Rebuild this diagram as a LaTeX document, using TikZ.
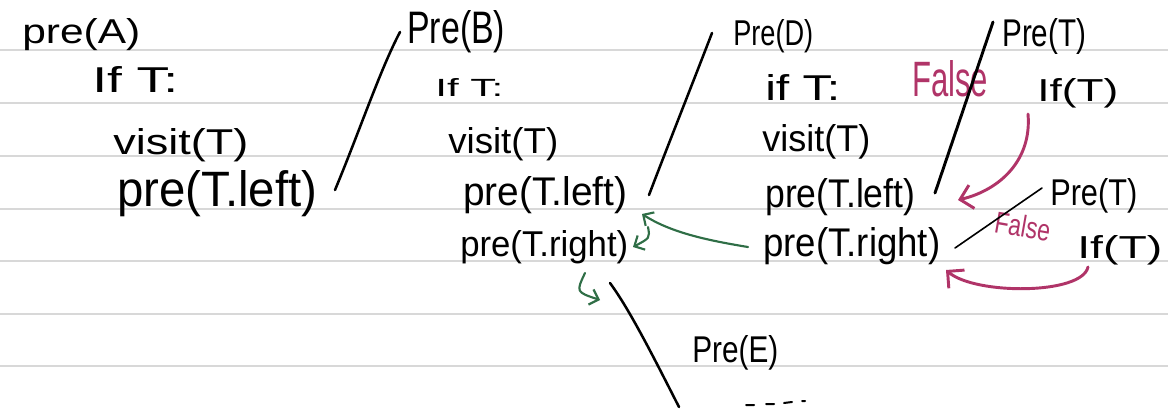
\documentclass[tikz,border=0pt]{standalone}
\usepackage{fontspec}
\usepackage{graphicx}
\setmainfont{Liberation Sans}
\usetikzlibrary{arrows.meta}
\newlength\hwunit
\setlength\hwunit{0.75pt}
\newcommand\hw[3]{\resizebox{#1\hwunit}{#2\hwunit}{#3}}
\definecolor{inkmag}{RGB}{176,52,104}
\definecolor{inkgreen}{RGB}{47,110,70}
\definecolor{ruling}{RGB}{216,216,216}
\begin{document}
\begin{tikzpicture}[x=0.75pt,y=-0.75pt,
  txt/.style={anchor=base west,inner sep=0pt,text=black},
  mag/.style={anchor=base west,inner sep=0pt,text=inkmag},
  ink/.style={draw=black,line width=1.9pt,line cap=round},
  thinink/.style={draw=black,line width=1.2pt,line cap=round},
  magarrow/.style={draw=inkmag,line width=2.2pt,line cap=round,-{Straight Barb[length=9pt,width=18pt,line width=2.2pt]}},
  grnarrow/.style={draw=inkgreen,line width=1.6pt,line cap=round,-{Straight Barb[length=6pt,width=12pt,line width=1.6pt]}},
  rule/.style={draw=ruling,line width=1.2pt}]
\useasboundingbox (0,0) rectangle (1168,411);
\fill[white] (0,0) rectangle (1168,411);
% ruled paper
\foreach \yy in {50,103,156,209,261,314,366} \draw[rule] (0,\yy) -- (1168,\yy);

% left column
\node[txt] (a0) at (22,43) {\hw{118}{25}{pre(A)}};
\node[txt] (a1) at (92,92) {\hw{86}{26}{If T:}};
\node[txt] (a2) at (113,154) {\hw{135}{26}{visit(T)}};
\node[txt] (a3) at (117,206) {\hw{200}{36}{pre(T.left)}};

% middle column
\node[txt] (b0) at (407,43) {\hw{98}{33}{Pre(B)}};
\node[txt] (b1) at (435,96) {\hw{68}{18}{If T:}};
\node[txt] (b2) at (448,153) {\hw{110}{26}{visit(T)}};
\node[txt] (b3) at (463,205) {\hw{164}{29}{pre(T.left)}};
\node[txt] (b4) at (460,256) {\hw{168}{26}{pre(T.right)}};

% right column
\node[txt] (d0) at (733,45) {\hw{80}{26}{Pre(D)}};
\node[txt] (d1) at (765,100) {\hw{75}{26}{if T:}};
\node[txt] (d2) at (762,151) {\hw{108}{27}{visit(T)}};
\node[txt] (d3) at (765,207) {\hw{150}{29}{pre(T.left)}};
\node[txt] (d4) at (763,256) {\hw{177}{29}{pre(T.right)}};

% far right
\node[txt] (t0) at (1002,46) {\hw{84}{28}{Pre(T)}};
\node[mag] (f0) at (912,96) {\hw{76}{36}{False}};
\node[txt] (t1) at (1037,101) {\hw{81}{23}{If(T)}};
\node[txt] (t2) at (1050,205) {\hw{87}{27}{Pre(T)}};
\node[mag,rotate=-10] (f1) at (993,232) {\hw{56}{22}{False}};
\node[txt] (t3) at (1077,258) {\hw{85}{23}{If(T)}};

% bottom
\node[txt] (e0) at (692,362) {\hw{86}{27}{Pre(E)}};

% connector end points
\coordinate (pA1) at (335,190);
\coordinate (pA2) at (400,32);
\coordinate (pB1) at (649,195);
\coordinate (pB2) at (712,33);
\coordinate (pD1) at (935,193);
\coordinate (pD2) at (993,22);
\coordinate (pR1) at (955,248);
\coordinate (pR2) at (1042,188);
\coordinate (pE1) at (610,283);
\coordinate (pE2) at (679,407);

\draw[ink] (pA1) .. controls (360,130) and (380,70) .. (pA2);
\draw[ink] (pB1) .. controls (670,140) and (690,90) .. (pB2);
\draw[ink,line width=2.2pt] (pD1) -- (pD2);
\draw[thinink] (pR1) -- (pR2);
\draw[ink] (pE1) .. controls (630,310) and (655,360) .. (pE2);

% magenta arrows
\coordinate (m1s) at (1028,114);
\coordinate (m1e) at (958,200);
\draw[magarrow] (m1s) .. controls (1032,160) and (1000,190) .. (m1e);
\coordinate (m2s) at (1088,267);
\coordinate (m2e) at (946,270);
\draw[magarrow] (m2s) .. controls (1082,295) and (975,295) .. (m2e);

% green arrows
\coordinate (g1s) at (748,247);
\coordinate (g1e) at (642,214);
\draw[grnarrow] (g1s) .. controls (705,240) and (670,232) .. (g1e);
\coordinate (g2s) at (648,227);
\coordinate (g2e) at (633,247);
\draw[grnarrow] (g2s) .. controls (650,238) .. (g2e);
\coordinate (g3s) at (585,273);
\coordinate (g3e) at (600,300);
\draw[grnarrow] (g3s) .. controls (576,292) .. (g3e);

% trailing dashes
\coordinate (q1) at (746,405);
\coordinate (q2) at (754,405);
\coordinate (q3) at (766,404);
\coordinate (q4) at (774,404);
\coordinate (q5) at (784,403);
\coordinate (q6) at (792,402);
\coordinate (q7) at (802,401);
\coordinate (q8) at (805,401);
\draw[thinink,line width=1.5pt] (q1) -- (q2) (q3) -- (q4) (q5) -- (q6) (q7) -- (q8);
\end{tikzpicture}
\end{document}
